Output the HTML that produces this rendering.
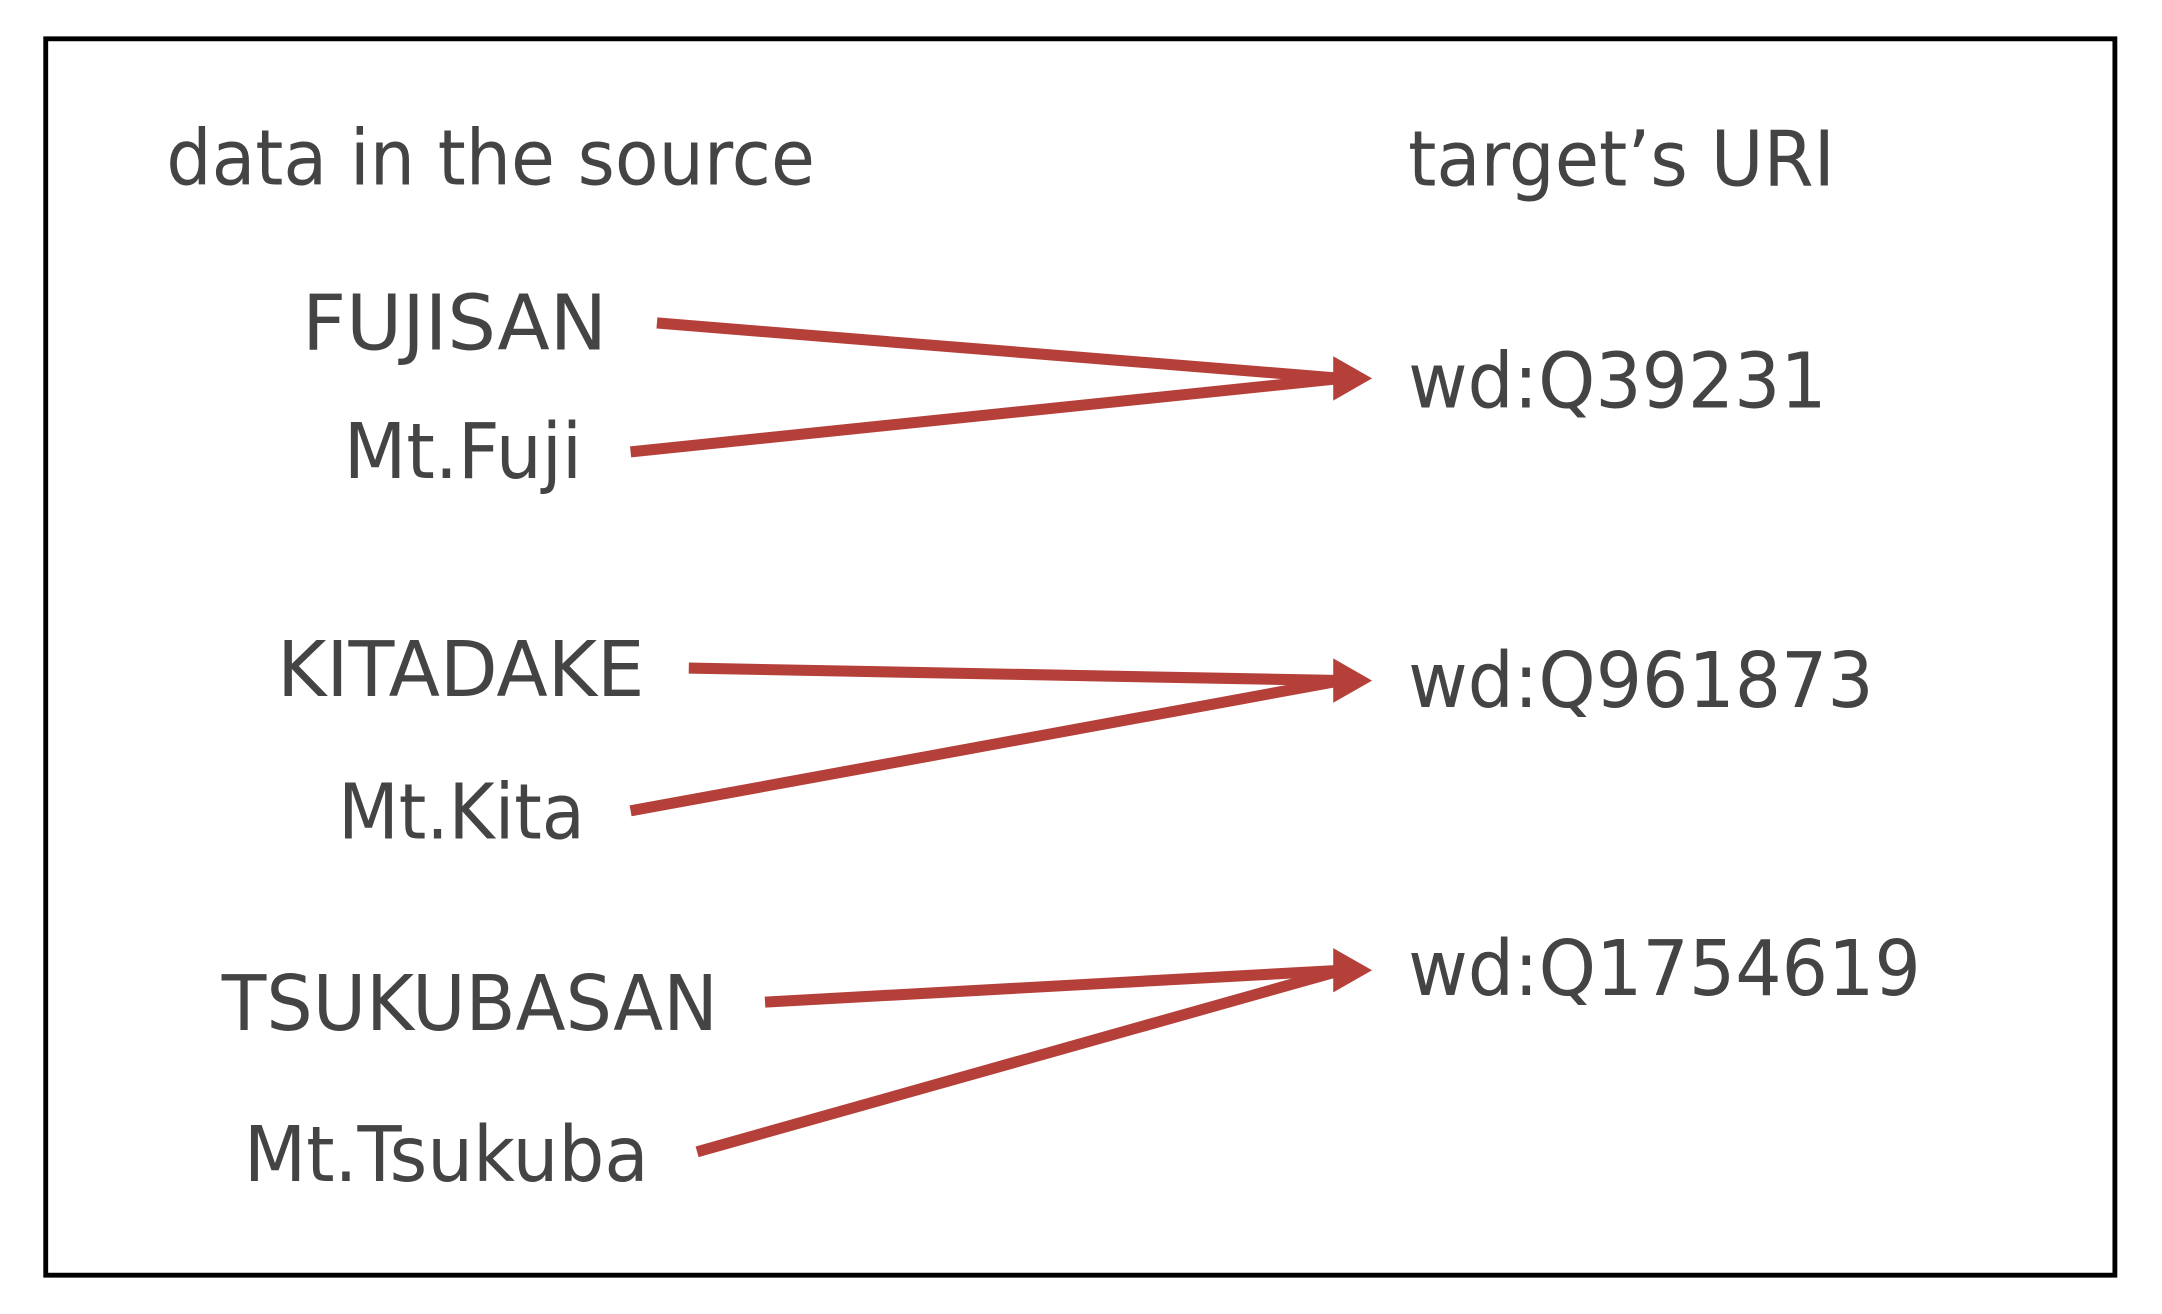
<!DOCTYPE html>
<html><head><meta charset="utf-8"><style>html,body{margin:0;padding:0;background:#fff}svg{display:block}</style></head>
<body>
<svg width="2162" height="1314" viewBox="0 0 1560 948" preserveAspectRatio="none" xmlns="http://www.w3.org/2000/svg">
<rect x="0" y="0" width="1560" height="948" fill="#fff"/>
<rect x="33" y="28" width="1493" height="892" fill="none" stroke="#000" stroke-width="3.5"/>
<g font-family="'DejaVu Sans','Liberation Sans',sans-serif" fill="#444" font-size="55">
<text x="120" y="133" textLength="468" lengthAdjust="spacingAndGlyphs">data in the source</text>
<text x="1016" y="134" textLength="308" lengthAdjust="spacingAndGlyphs">target’s URI</text>
<text x="218" y="252" textLength="220" lengthAdjust="spacingAndGlyphs">FUJISAN</text>
<text x="248" y="345" textLength="172" lengthAdjust="spacingAndGlyphs">Mt.Fuji</text>
<text x="200" y="502" textLength="265" lengthAdjust="spacingAndGlyphs">KITADAKE</text>
<text x="244" y="605" textLength="178" lengthAdjust="spacingAndGlyphs">Mt.Kita</text>
<text x="160" y="743" textLength="358" lengthAdjust="spacingAndGlyphs">TSUKUBASAN</text>
<text x="176" y="852" textLength="292" lengthAdjust="spacingAndGlyphs">Mt.Tsukuba</text>
<text x="1016" y="294" textLength="302" lengthAdjust="spacingAndGlyphs">wd:Q39231</text>
<text x="1016" y="510" textLength="336" lengthAdjust="spacingAndGlyphs">wd:Q961873</text>
<text x="1016" y="718" textLength="370" lengthAdjust="spacingAndGlyphs">wd:Q1754619</text>
</g>
<g stroke="#b5403a" stroke-width="8" fill="none">
<line x1="474" y1="233" x2="968" y2="273"/>
<line x1="455" y1="326" x2="968" y2="273"/>
<line x1="497" y1="482" x2="968" y2="491"/>
<line x1="455" y1="585" x2="968" y2="491"/>
<line x1="552" y1="723" x2="968" y2="700"/>
<line x1="503" y1="831" x2="968" y2="700"/>
</g>
<g fill="#b5403a">
<polygon points="990,273 962,257 962,289"/>
<polygon points="990,491 962,475 962,507"/>
<polygon points="990,700 962,684 962,716"/>
</g>
</svg>
</body></html>
